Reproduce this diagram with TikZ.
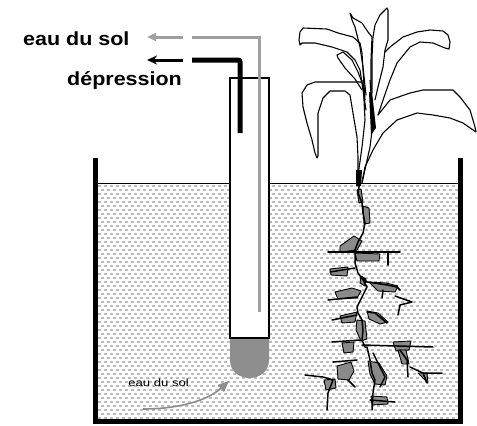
\documentclass[tikz,border=0pt]{standalone}
\usepackage{fontspec}
\setmainfont{Liberation Sans}
\usetikzlibrary{arrows.meta}
\definecolor{dotgray}{HTML}{BBBBBB}
\definecolor{pipegray}{HTML}{A0A0A0}
\definecolor{cupgray}{HTML}{8E8E8E}
\definecolor{rootgray}{HTML}{8A8A8A}
\begin{document}
\begin{tikzpicture}[x=1pt,y=-1pt,
  wall/.style={line width=5pt},
  bigtext/.style={font=\bfseries\fontsize{19}{19}\selectfont, xscale=1.13, inner sep=0pt},
  smalltext/.style={font=\fontsize{10.5}{10.5}\selectfont, xscale=1.25, inner sep=0pt},
  leaf/.style={draw=black, line width=1.1pt, line join=round, line cap=round},
  stemline/.style={draw=black, line width=1.1pt, line join=round},
  rootline/.style={draw=black, line width=1.5pt, line join=round, line cap=round},
  blob/.style={fill=rootgray, draw=black, line width=0.9pt, line join=round}]
\useasboundingbox (0,0) rectangle (477,426);

% soil texture
\begin{scope}
  \clip (98,184) rectangle (458,420);
  \foreach \j in {0,...,59} {
    \pgfmathsetmacro\yy{184.5+4*\j}
    \pgfmathsetmacro\off{mod(\j,2)*3}
    \foreach \i in {0,...,60} {
      \fill[dotgray] (98+\off+6*\i,\yy) rectangle ++(3,2.8);
    }
  }
\end{scope}
\draw[line width=1.5pt] (97,183.5) -- (458,183.5);

% container
\draw[wall] (95.5,158) -- (95.5,421.5) -- (460.5,421.5) -- (460.5,158);

% tensiometer tube and porous cup
\coordinate (tubeTL) at (230,78);
\coordinate (tubeBR) at (269,338);
\fill[cupgray] (230,338) -- (230,360) .. controls (230,372) and (240,378) .. (249.5,378)
  .. controls (259,378) and (269,372) .. (269,360) -- (269,338) -- cycle;
\draw[line width=1.4pt, fill=white] (tubeTL) rectangle (tubeBR);

% water line (grey) and suction line (black)
\coordinate (gbot) at (259,312);
\coordinate (gcorner) at (259,37);
\coordinate (gend) at (192,37);
\coordinate (bbot) at (240,133);
\coordinate (bcorner) at (240,60);
\coordinate (bend) at (192,60);
\draw[pipegray, line width=3pt] (gbot) -- (gcorner) -- (gend);
\draw[black, line width=5pt, rounded corners=2pt] (bbot) -- (bcorner) -- (bend);

% labels and arrows
\node[bigtext, anchor=base west] (eausol) at (23,45) {eau du sol};
\node[bigtext, anchor=base west] (depr) at (67,85) {dépression};
\coordinate (ga) at (183,37);
\coordinate (gtip) at (147,37);
\coordinate (ba) at (183,60);
\coordinate (btip) at (147,60);
\draw[pipegray, line width=3pt, -{Triangle[length=9pt,width=8pt]}] (ga) -- (gtip);
\draw[black, line width=3pt, -{Stealth[length=10pt,width=9pt]}] (ba) -- (btip);

% soil water entering the cup
\node[smalltext, anchor=base west] (eausol2) at (128,386) {eau du sol};
\coordinate (cs) at (143,409);
\coordinate (ce) at (229,381);
\draw[cupgray, line width=1.6pt, -{Triangle[length=11pt,width=9pt]}] (cs) .. controls (180,409) and (208,400) .. (ce);

% plant: leaves
\draw[leaf] (365,100) -- (363,70) -- (362,53) -- (360,43) -- (353,37) -- (338,33) -- (327,29) -- (303,28) -- (300,32) -- (299,40) -- (300,45) -- (302,43) -- (315,43) -- (332,47) -- (347,52) -- (355,60) -- (360,70) -- (363,90) -- (366,110);
\draw[leaf] (362,90) -- (355,79) -- (345,68) -- (338,58) -- (337,55) -- (343,52) -- (352,60) -- (358,72) -- (363,85);
\draw[leaf] (366,95) -- (363,67) -- (360,47) -- (355,27) -- (352,20) -- (350,13) -- (353,18) -- (362,23) -- (368,32) -- (372,37) -- (371,60) -- (371,90);
\draw[leaf] (372,93) -- (372,57) -- (373,37) -- (375,25) -- (380,15) -- (387,8) -- (388,10) -- (388,40) -- (385,50) -- (383,67) -- (378,87) -- (375,100);
\draw[leaf] (385,52) -- (390,47) -- (403,37) -- (417,32) -- (430,30) -- (443,31) -- (448,35) -- (450,42) -- (449,49) -- (445,48) -- (433,43) -- (420,42) -- (410,47) -- (397,63) -- (390,80) -- (383,100) -- (378,115);
\draw[leaf] (378,115) -- (390,100) -- (410,93) -- (423,90) -- (453,90) -- (460,97) -- (470,110) -- (475,127) -- (476,132) -- (463,123) -- (450,118) -- (433,115) -- (417,113) -- (397,120) -- (383,133) -- (373,150) -- (365,167) -- (362,182);
\draw[leaf] (362,82) -- (315,82) -- (307,85) -- (302,93) -- (303,107) -- (307,123) -- (312,140) -- (315,153) -- (317,158) -- (318,156) -- (318,130) -- (318,113) -- (323,98) -- (330,91) -- (345,91) -- (350,95) -- (353,113) -- (357,137) -- (358,157) -- (358,183);

% plant: stem
\draw[stemline] (363,80) -- (365,120) -- (362,147) -- (357,183);
\draw[stemline] (370,80) -- (373,123) -- (370,147) -- (362,183);
\fill (369,92) -- (372,92) -- (376,128) -- (371,135) -- cycle;
\fill (356,170) -- (362,170) -- (361,186) -- (356,186) -- cycle;

% plant: roots, grey parts
\fill[blob] (357,190) -- (361,189) -- (363,202) -- (359,203) -- cycle;
\fill[blob] (363,206) -- (369,208) -- (370,223) -- (364,224) -- cycle;
\fill[blob] (340,246) -- (354,236) -- (362,241) -- (357,250) -- (340,252) -- cycle;
\fill[blob] (355,253) -- (380,254) -- (379,261) -- (357,261) -- cycle;
\fill[blob] (330,269) -- (348,267) -- (347,276) -- (331,275) -- cycle;
\fill[blob] (361,276) -- (366,279) -- (365,286) -- (360,283) -- cycle;
\fill[blob] (369,282) -- (386,283) -- (398,286) -- (395,292) -- (378,291) -- cycle;
\fill[blob] (335,292) -- (352,288) -- (361,291) -- (357,298) -- (338,299) -- cycle;
\fill[blob] (340,316) -- (357,312) -- (355,322) -- (342,323) -- cycle;
\fill[blob] (367,311) -- (378,313) -- (388,322) -- (380,324) -- (369,319) -- cycle;
\fill[blob] (357,320) -- (365,321) -- (367,339) -- (361,341) -- (356,330) -- cycle;
\fill[blob] (393,342) -- (411,341) -- (409,350) -- (396,351) -- cycle;
\fill[blob] (398,350) -- (406,350) -- (409,364) -- (402,364) -- cycle;
\fill[blob] (342,343) -- (354,342) -- (353,352) -- (344,353) -- cycle;
\fill[blob] (337,366) -- (351,362) -- (354,371) -- (349,380) -- (338,379) -- cycle;
\fill[blob] (324,380) -- (335,379) -- (336,388) -- (326,390) -- cycle;
\fill[blob] (368,361) -- (379,363) -- (387,376) -- (385,385) -- (375,384) -- (370,374) -- cycle;
\fill[blob] (371,396) -- (387,397) -- (388,404) -- (372,405) -- cycle;
\fill[blob] (418,373) -- (427,373) -- (428,383) -- cycle;

% plant: roots, black lines
\draw[rootline] (360,180) -- (359,187) -- (358,193) -- (362,203) -- (363,213) -- (365,223) -- (363,233) -- (358,242) -- (355,250) -- (355,263) -- (358,273) -- (363,280) -- (367,287) -- (362,297) -- (357,307) -- (358,313) -- (362,320) -- (363,330) -- (362,340) -- (365,347) -- (367,347) -- (370,360) -- (372,373) -- (375,380) -- (373,393) -- (372,410);
\draw[rootline] (328,252) -- (400,252);
\draw[rootline] (388,252) -- (388,265);
\draw[rootline] (330,272) -- (355,268);
\draw[rootline] (362,277) -- (367,282) -- (387,285) -- (397,287) -- (400,290);
\draw[rootline] (383,290) -- (382,298);
\draw[rootline] (395,296) -- (412,302) -- (400,305) -- (398,315);
\draw[rootline] (328,300) -- (357,297);
\draw[rootline] (332,320) -- (357,315);
\draw[rootline] (367,312) -- (375,313) -- (387,323);
\draw[rootline] (362,345) -- (433,347);
\draw[rootline] (400,350) -- (407,360) -- (408,377);
\draw[rootline] (332,342) -- (360,340);
\draw[rootline] (333,362) -- (357,360);
\draw[rootline] (305,375) -- (323,377) -- (333,380) -- (328,393) -- (327,410);
\draw[rootline] (348,380) -- (355,387);
\draw[rootline] (373,353) -- (380,367) -- (385,377) -- (380,387);
\draw[rootline] (370,400) -- (395,402);
\draw[rootline] (410,367) -- (423,373) -- (442,373);
\draw[rootline] (423,373) -- (427,383);
\end{tikzpicture}
\end{document}
